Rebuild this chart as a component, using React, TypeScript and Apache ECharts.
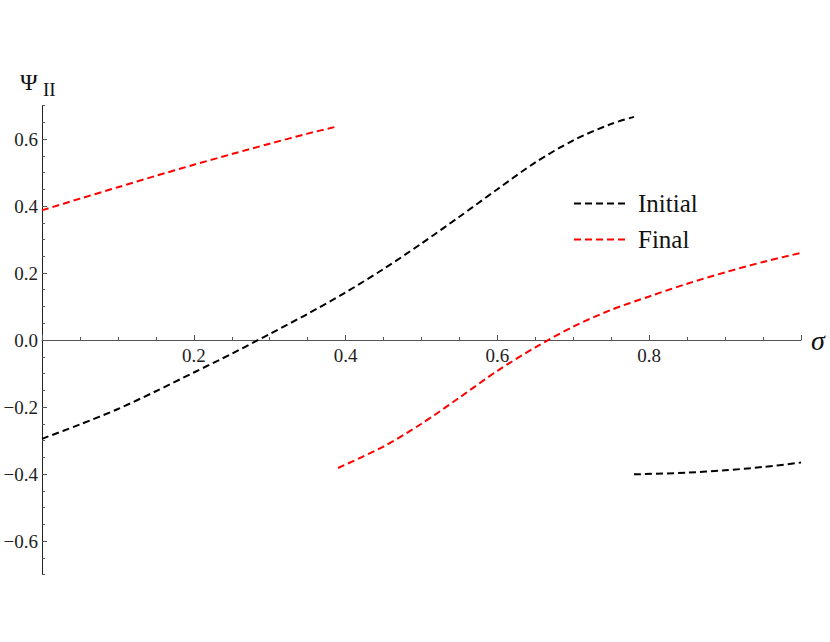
import React, { useEffect, useRef } from "react";
import * as echarts from "echarts";

const initialSigmaA = [0, 0.05, 0.1, 0.15, 0.2, 0.25, 0.3, 0.35, 0.4, 0.45, 0.5, 0.55, 0.6, 0.65, 0.7, 0.75, 0.78];
const initialPsiA = [-0.295, -0.252, -0.206, -0.153, -0.097, -0.041, 0.018, 0.078, 0.142, 0.212, 0.288, 0.368, 0.45, 0.53, 0.596, 0.645, 0.666];
const initialSigmaB = [0.78, 0.85, 0.9, 0.95, 1.0];
const initialPsiB = [-0.401, -0.396, -0.389, -0.379, -0.366];

const finalSigmaA = [0, 0.05, 0.1, 0.15, 0.2, 0.25, 0.3, 0.35, 0.39];
const finalPsiA = [0.387, 0.422, 0.456, 0.49, 0.523, 0.555, 0.586, 0.616, 0.638];
const finalSigmaB = [0.39, 0.45, 0.5, 0.55, 0.6, 0.65, 0.7, 0.75, 0.8, 0.85, 0.9, 0.95, 1.0];
const finalPsiB = [-0.382, -0.318, -0.25, -0.172, -0.092, -0.022, 0.04, 0.09, 0.13, 0.168, 0.202, 0.233, 0.26];

const yMajorTicks = [-0.6, -0.4, -0.2, 0, 0.2, 0.4, 0.6];
const legendNames = ["Initial", "Final"];

const zip = (xs: number[], ys: number[]) => xs.map((x, i) => [x, ys[i]]);
const fmt = (v: number) => v.toFixed(1).replace("-", "\u2212");

const FONT = "'Liberation Serif', 'DejaVu Serif', serif";
const AXIS_COLOR = "#555";
const GRID_TOP = 105.5;
const GRID_BOTTOM = 67.5;
const CHART_H = 642;

export default function App() {
  const ref = useRef<HTMLDivElement>(null);
  useEffect(() => {
    document.body.style.margin = "0";
    const chart = echarts.init(ref.current!, undefined, { renderer: "svg" });
    const mk = (name: string, data: number[][], color: string) => ({
      name,
      type: "line",
      data,
      xAxisIndex: 0,
      yAxisIndex: 0,
      smooth: 0.3,
      showSymbol: false,
      symbol: "none",
      color,
      lineStyle: { color, width: 2, type: [7, 4] as any },
    });
    const plotH = CHART_H - GRID_TOP - GRID_BOTTOM;
    const zeroOffset = -plotH * (0.7 / 1.4);
    chart.setOption({
      animation: false,
      backgroundColor: "#fff",
      grid: { left: 42, right: 29, top: GRID_TOP, bottom: GRID_BOTTOM, outerBoundsMode: "none" },
      legend: {
        data: legendNames,
        orient: "vertical",
        left: 568,
        top: 186,
        itemWidth: 51,
        itemHeight: 10,
        itemGap: 11,
        itemStyle: { opacity: 0 },
        textStyle: { fontFamily: FONT, fontSize: 25, color: "#111", padding: [0, 0, 0, 8] },
        selectedMode: false,
      },
      xAxis: {
        type: "value",
        min: 0,
        max: 1,
        interval: 0.2,
        offset: zeroOffset,
        axisLine: { onZero: false, lineStyle: { color: AXIS_COLOR, width: 1 } },
        axisTick: { inside: true, length: 5, lineStyle: { color: AXIS_COLOR } },
        minorTick: { show: true, splitNumber: 4, length: 3, lineStyle: { color: AXIS_COLOR } },
        splitLine: { show: false },
        axisLabel: {
          margin: 6,
          fontFamily: FONT,
          fontSize: 19,
          color: "#222",
          formatter: (v: number) => (v <= 0.0001 || v >= 0.9999 ? "" : fmt(v)),
        },
      },
      yAxis: [
        {
          type: "value",
          min: -0.7,
          max: 0.7,
          interval: 0.05,
          position: "left",
          axisLine: { show: true, onZero: false, lineStyle: { color: "#222", width: 1 } },
          axisTick: { show: true, inside: true, length: 3, lineStyle: { color: AXIS_COLOR } },
          axisLabel: { show: false },
          splitLine: { show: false },
        },
        {
          type: "value",
          min: -0.7,
          max: 0.7,
          interval: 0.1,
          position: "left",
          axisLine: { show: false, onZero: false },
          axisTick: {
            show: true,
            inside: true,
            length: 5,
            customValues: yMajorTicks,
            lineStyle: { color: AXIS_COLOR },
          },
          axisLabel: {
            margin: 4,
            fontFamily: FONT,
            fontSize: 19,
            color: "#222",
            customValues: yMajorTicks,
            formatter: (v: number) => fmt(v),
          },
          splitLine: { show: false },
        },
      ],
      graphic: [
        { type: "text", left: 20, top: 70, style: { text: "Ψ", font: `24px ${FONT}`, fill: "#111" } },
        { type: "text", left: 43, top: 80, style: { text: "II", font: `19px ${FONT}`, fill: "#111" } },
        { type: "text", left: 811, top: 326, style: { text: "σ", font: `italic 28px ${FONT}`, fill: "#111" } },
      ],
      series: [
        mk("Initial", zip(initialSigmaA, initialPsiA), "#000"),
        mk("Initial", zip(initialSigmaB, initialPsiB), "#000"),
        mk("Final", zip(finalSigmaA, finalPsiA), "#ff0000"),
        mk("Final", zip(finalSigmaB, finalPsiB), "#ff0000"),
      ],
    });
    return () => chart.dispose();
  }, []);
  return <div ref={ref} style={{ width: 830, height: 642 }} />;
}
